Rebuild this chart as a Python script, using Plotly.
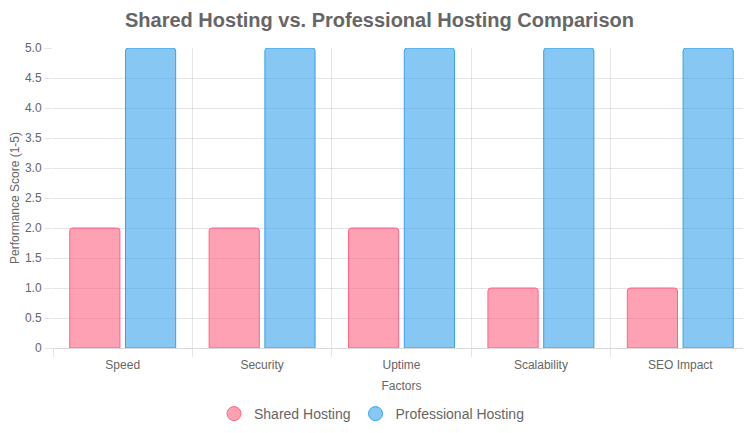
import plotly.graph_objects as go

factors = ['Speed', 'Security', 'Uptime', 'Scalability', 'SEO Impact']
shared_hosting = [2, 2, 2, 1, 1]
professional_hosting = [5, 5, 5, 5, 5]
y_ticks = [0, 0.5, 1, 1.5, 2, 2.5, 3, 3.5, 4, 4.5, 5]
y_tick_text = ['0', '0.5', '1.0', '1.5', '2.0', '2.5', '3.0', '3.5', '4.0', '4.5', '5.0']

pink_fill = 'rgba(255,99,132,0.6)'
pink_line = 'rgba(255,99,132,1)'
blue_fill = 'rgba(54,162,235,0.6)'
blue_line = 'rgba(54,162,235,1)'
grid = 'rgba(0,0,0,0.1)'
txt = '#666666'

fig = go.Figure()
fig.add_trace(go.Bar(x=factors, y=shared_hosting, name='Shared Hosting', showlegend=False,
                     marker=dict(color=pink_fill, line=dict(color=pink_line, width=1), cornerradius=3)))
fig.add_trace(go.Bar(x=factors, y=professional_hosting, name='Professional Hosting', showlegend=False,
                     marker=dict(color=blue_fill, line=dict(color=blue_line, width=1), cornerradius=3)))

# circle markers for the legend, like the original
for name, fill, line in [('Shared Hosting', pink_fill, pink_line), ('Professional Hosting', blue_fill, blue_line)]:
    fig.add_trace(go.Scatter(x=[None], y=[None], mode='markers', name=name,
                             marker=dict(symbol='circle', size=14, color=fill, line=dict(color=line, width=1))))

# page body has an 8px margin, so the figure is sized to fit the window
fig.update_layout(
    width=743, height=425,
    margin=dict(l=45, r=1, t=40, b=85),
    paper_bgcolor='white', plot_bgcolor='white',
    font=dict(family='Liberation Sans, Arial, sans-serif', size=12, color=txt),
    title=dict(text='<b>Shared Hosting vs. Professional Hosting Comparison</b>',
               x=0.5, xanchor='center', y=1 - 12 / 425, yanchor='middle', yref='container',
               font=dict(size=20, color=txt)),
    barmode='group', bargap=0.2, bargroupgap=0.1,
    legend=dict(orientation='h', x=(214 - 53) / 697, xanchor='left', y=-0.22, yanchor='middle',
                font=dict(size=14, color=txt)),
)
fig.update_xaxes(type='category', tickson='boundaries', showgrid=True, gridcolor=grid, gridwidth=1,
                 ticks='outside', ticklen=8, tickcolor=grid, ticklabelstandoff=6, automargin=False,
                 showline=True, linecolor='rgba(0,0,0,0.15)', linewidth=1,
                 title=dict(text='Factors', standoff=10, font=dict(size=12, color=txt)))
fig.update_yaxes(range=[0, 5], tickvals=y_ticks, ticktext=y_tick_text, showgrid=True, gridcolor=grid,
                 ticks='outside', ticklen=8, tickcolor=grid, zeroline=False, automargin=False,
                 title=dict(text='Performance Score (1-5)', standoff=4, font=dict(size=12, color=txt)))

fig.write_html('out.html')
